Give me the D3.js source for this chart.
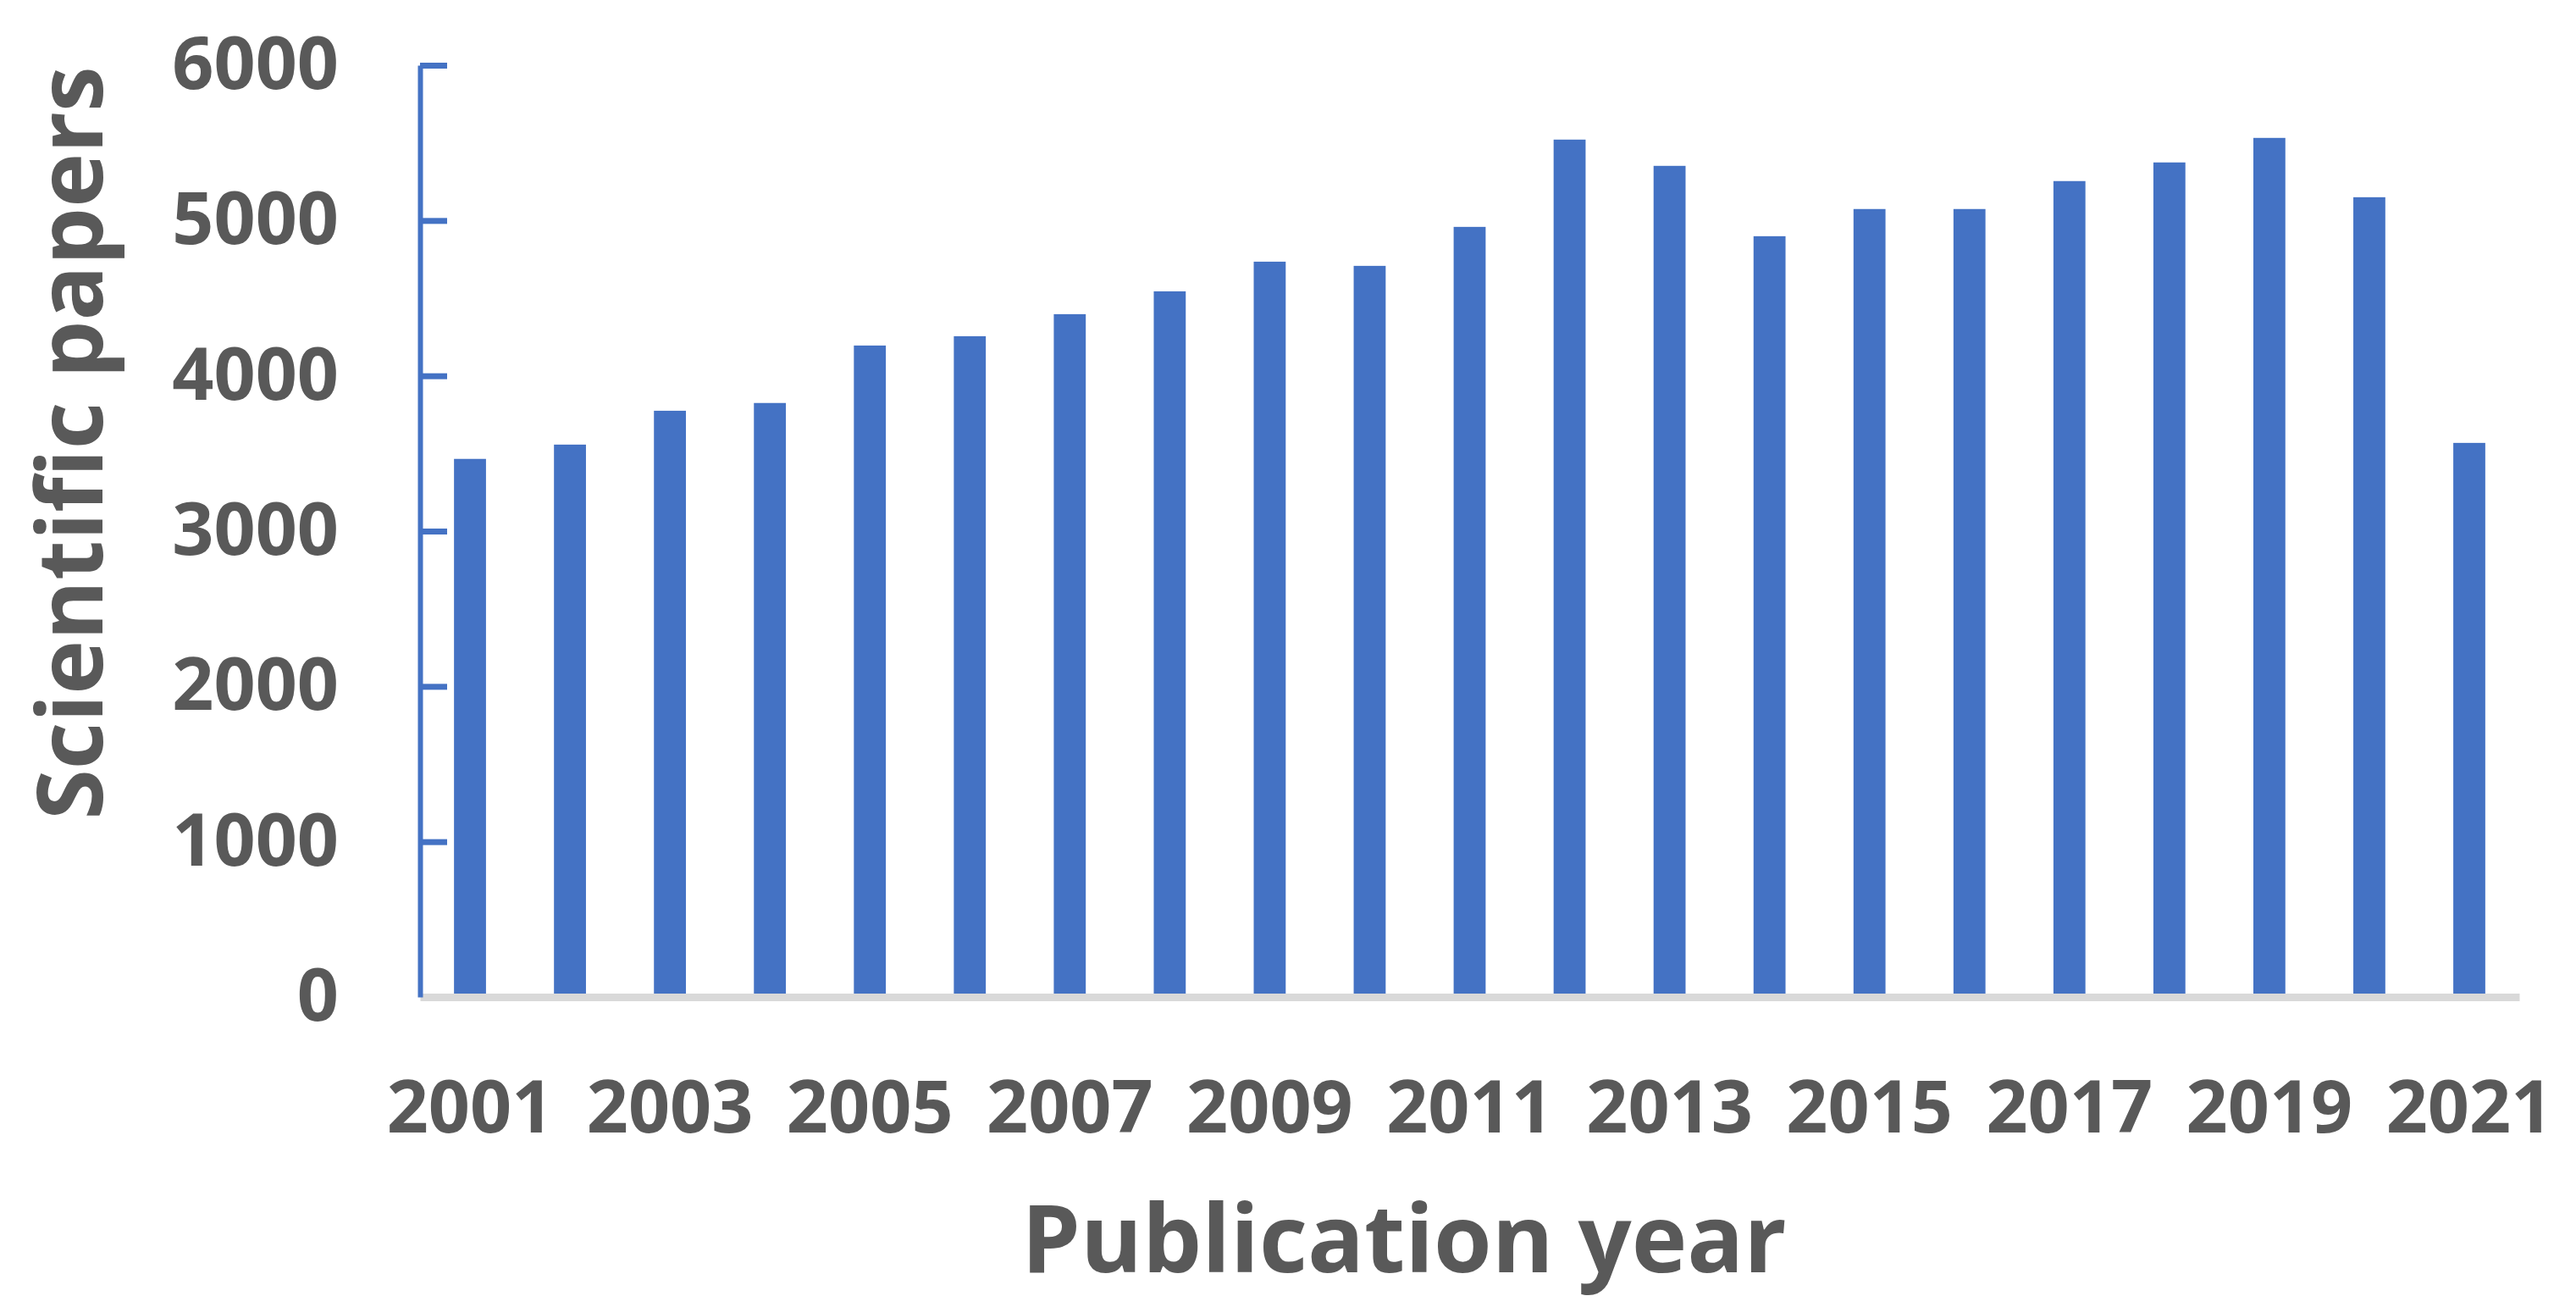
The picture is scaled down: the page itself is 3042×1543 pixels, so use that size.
<!DOCTYPE html>
<html>
<head>
<meta charset="utf-8">
<script src="https://cdn.jsdelivr.net/npm/d3@7"></script>
<style>
  html, body { margin: 0; padding: 0; background: #ffffff; }
  svg { display: block; }
</style>
</head>
<body>
<div id="chart"></div>
<script>
const years = [2001,2002,2003,2004,2005,2006,2007,2008,2009,2010,2011,2012,2013,2014,2015,2016,2017,2018,2019,2020,2021];
const papers = [3465,3557,3775,3825,4195,4255,4397,4544,4735,4708,4959,5521,5352,4899,5074,5074,5254,5374,5532,5150,3568];
const yTicks = [0,1000,2000,3000,4000,5000,6000];
const xTickYears = [2001,2003,2005,2007,2009,2011,2013,2015,2017,2019,2021];
const xTitle = "Publication year";
const yTitle = "Scientific papers";

const W = 3042, H = 1543;
const FONT = "'Open Sans', 'Noto Sans', sans-serif";
const TEXT = "#595959";
const BLUE = "#4472C4";

const svg = d3.select("#chart").append("svg")
  .attr("width", W).attr("height", H)
  .style("font-family", FONT);

const x = d3.scaleBand().domain(years).range([496, 2975])
  .paddingInner(0.68).paddingOuter(0.34);
const y = d3.scaleLinear().domain([0, 6000]).range([1177, 77]);

// bars
svg.append("g").selectAll("rect").data(years).join("rect")
  .attr("x", d => x(d))
  .attr("width", x.bandwidth())
  .attr("y", (d, i) => y(papers[i]))
  .attr("height", (d, i) => y(0) - y(papers[i]))
  .attr("fill", BLUE);

// x axis (gray baseline, labels at odd years)
const xAxis = svg.append("g")
  .attr("transform", `translate(0,${y(0)})`)
  .call(d3.axisBottom(x).tickValues(xTickYears).tickSize(0).tickSizeOuter(0).tickPadding(99));
xAxis.select(".domain").attr("stroke", "#d9d9d9").attr("stroke-width", 9);
xAxis.selectAll(".tick text")
  .attr("fill", TEXT).style("font-size", "86px").style("font-weight", 700)
  .style("font-family", FONT);

// y axis (blue line, inward ticks)
const yAxis = svg.append("g")
  .attr("transform", `translate(496,0)`)
  .call(d3.axisLeft(y).tickValues(yTicks).tickFormat(d3.format("d"))
    .tickSize(-32).tickSizeOuter(0).tickPadding(96));
yAxis.select(".domain").attr("stroke", BLUE).attr("stroke-width", 6);
yAxis.selectAll(".tick line").attr("stroke", BLUE).attr("stroke-width", 7);
yAxis.selectAll(".tick").filter(d => d === 0).select("line").remove();
yAxis.selectAll(".tick text")
  .attr("fill", TEXT).style("font-size", "86px").style("font-weight", 700)
  .style("font-family", FONT);

// titles
svg.append("text")
  .attr("x", 1658).attr("y", 1502)
  .attr("text-anchor", "middle")
  .attr("fill", TEXT).style("font-size", "111px").style("font-weight", 700)
  .text(xTitle);

svg.append("text")
  .attr("transform", "translate(121,523) rotate(-90)")
  .attr("text-anchor", "middle")
  .attr("fill", TEXT).style("font-size", "108px").style("font-weight", 700)
  .text(yTitle);
</script>
</body>
</html>
